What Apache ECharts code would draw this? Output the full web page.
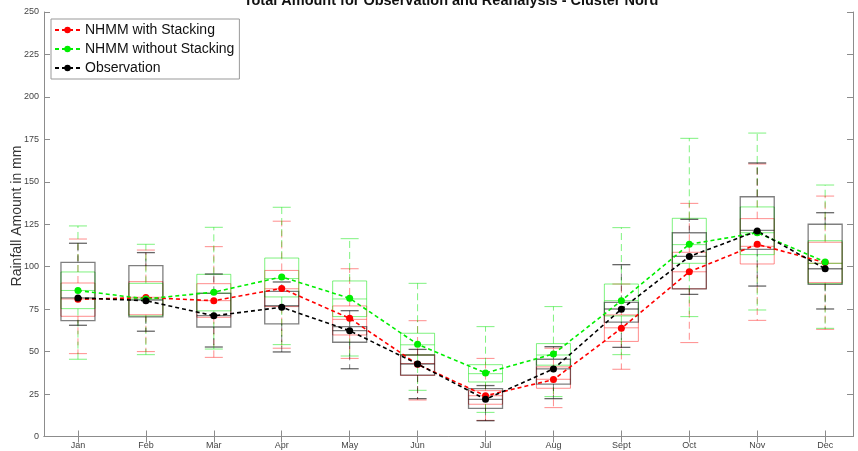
<!DOCTYPE html>
<html>
<head>
<meta charset="utf-8">
<script src="https://cdn.jsdelivr.net/npm/echarts@6/dist/echarts.min.js"></script>
<style>html,body{margin:0;padding:0;background:#fff;}#c{width:858px;height:451px;}</style>
</head>
<body>
<div id="c"></div>
<script>
const months = ['Jan','Feb','Mar','Apr','May','Jun','Jul','Aug','Sept','Oct','Nov','Dec'];
const yTicks = [0,25,50,75,100,125,150,175,200,225,250];

// NHMM with Stacking (red)
const redLo   = [48.8, 50.0, 46.6, 52.0, 46.0, 21.5,  9.5, 17.0, 39.6,  55.3,  68.4,  63.1];
const redQ1   = [70.8, 71.7, 70.2, 76.5, 59.8, 36.0, 19.0, 28.4, 56.0,  87.0, 101.6,  90.6];
const redMed  = [81.0, 82.0, 80.0, 87.0, 69.0, 43.0, 24.0, 33.7, 64.0,  97.0, 112.0, 102.0];
const redQ3   = [90.4, 91.2, 90.0, 97.8, 76.9, 48.0, 27.0, 41.0, 71.6, 108.5, 128.3, 114.4];
const redHi   = [116.3,109.8,111.8,126.8, 98.8, 68.2, 46.0, 52.0, 89.8, 137.3, 160.5, 141.6];
const redMean = [80.8, 81.8, 80.0, 87.2, 69.6, 42.5, 24.0, 33.5, 63.7,  97.0, 113.2, 102.4];

// NHMM without Stacking (green)
const grnLo   = [45.5, 48.2, 51.5, 54.1, 47.4, 27.2, 14.2, 23.5, 48.2,  70.6,  74.5,  63.7];
const grnQ1   = [75.3, 71.0, 74.0, 82.2, 70.6, 48.0, 32.1, 42.0, 71.0, 102.0, 107.1,  90.0];
const grnMed  = [86.0, 81.0, 84.5, 93.0, 81.0, 54.0, 37.0, 48.0, 80.0, 113.0, 120.0, 102.0];
const grnQ3   = [96.9, 90.2, 95.5,105.1, 91.6, 60.8, 42.3, 54.7, 89.8, 128.5, 135.2, 115.3];
const grnHi   = [124.0,113.2,123.2,135.0,116.5, 90.2, 64.7, 76.5,123.0, 175.6, 178.7, 148.1];
const grnMean = [86.0, 81.0, 85.0, 94.0, 81.4, 54.3, 37.4, 48.6, 80.0, 113.2, 120.0, 102.8];

// Observation (black)
const obsLo   = [65.5, 62.0, 52.7, 49.8, 39.9, 22.3,  9.3, 22.3, 52.5,  83.7,  88.6,  75.1];
const obsQ1   = [68.2, 70.4, 64.5, 66.3, 55.5, 36.2, 16.6, 30.9, 67.3,  86.9, 110.2,  89.6];
const obsMed  = [81.6, 80.4, 71.2, 77.0, 62.3, 42.7, 21.9, 39.8, 75.1, 106.1, 121.4,  98.8];
const obsQ3   = [102.6,100.6,84.3, 85.5, 64.7, 48.0, 28.2, 45.5, 79.0, 120.0, 141.2, 125.0];
const obsHi   = [113.8,108.3,95.7, 91.0, 74.1, 51.3, 30.0, 52.9,101.2, 127.9, 161.1, 131.8];
const obsMean = [81.6, 80.0, 71.1, 76.1, 62.3, 42.7, 21.9, 39.8, 75.0, 106.0, 121.0,  98.8];

function boxData(lo,q1,med,q3,hi){
  return months.map((m,i)=>[i+1, lo[i], q1[i], med[i], q3[i], hi[i]]);
}
function meanData(mean){ return months.map((m,i)=>[i+1, mean[i]]); }

function makeBox(name, data, color, lw, capColor){
  return {
    name: name, type: 'custom', data: data, encode: {x:0, y:[1,5]}, silent: true,
    renderItem: function(params, api){
      const x = api.value(0);
      const pt = k => api.coord([x, api.value(k)]);
      const lo = pt(1), q1 = pt(2), md = pt(3), q3 = pt(4), hi = pt(5);
      const cx = lo[0], bw = 17, cw = 9;
      const dash = {stroke: color, lineWidth: 1, lineDash: [7,4]};
      const solid = {stroke: color, lineWidth: lw};
      const cap = {stroke: capColor, lineWidth: lw};
      return {type:'group', children:[
        {type:'line', shape:{x1:cx,y1:q3[1],x2:cx,y2:hi[1]}, style:dash},
        {type:'line', shape:{x1:cx,y1:q1[1],x2:cx,y2:lo[1]}, style:dash},
        {type:'line', shape:{x1:cx-cw,y1:hi[1],x2:cx+cw,y2:hi[1]}, style:cap},
        {type:'line', shape:{x1:cx-cw,y1:lo[1],x2:cx+cw,y2:lo[1]}, style:cap},
        {type:'rect', shape:{x:cx-bw,y:q3[1],width:2*bw,height:q1[1]-q3[1]}, style:{stroke:color,fill:null,lineWidth:lw}},
        {type:'line', shape:{x1:cx-bw,y1:md[1],x2:cx+bw,y2:md[1]}, style:solid}
      ]};
    }
  };
}
function makeMean(name, data, color){
  return {
    name: name, type:'line', data: data, symbol:'circle', symbolSize: 7,
    itemStyle:{color: color}, lineStyle:{color: color, width: 1.6, type:[4,3]}, z: 5
  };
}

const chart = echarts.init(document.getElementById('c'), null, {renderer:'canvas'});
const axisGray = '#8c8c8c';
chart.setOption({
  animation: false,
  backgroundColor: '#fff',
  grid: {left: 44, right: 5, top: 12, bottom: 14.5, containLabel: false, outerBoundsMode: 'none'},
  graphic: [{
    type: 'text', x: 451, y: 8,
    style: {text: 'Total Amount for Observation and Reanalysis - Cluster Nord', font: 'bold 14.5px "Liberation Sans", Arial, sans-serif', fill: '#111', textAlign: 'center', textVerticalAlign: 'bottom'}
  },{
    type: 'text', x: 17, y: 216, rotation: Math.PI / 2,
    style: {text: 'Rainfall Amount in mm', font: '14px "Liberation Sans", Arial, sans-serif', fill: '#333', textAlign: 'center', textVerticalAlign: 'middle'}
  }],
  legend: {
    data: ['NHMM with Stacking','NHMM without Stacking','Observation'],
    orient: 'vertical', left: 51, top: 19, itemWidth: 25, itemHeight: 8, itemGap: 5,
    padding: [4, 5, 4, 3], borderColor: '#999', borderWidth: 1, backgroundColor: '#fff',
    textStyle: {fontSize: 14, color: '#111', fontFamily: '"Liberation Sans", Arial, sans-serif'}
  },
  xAxis: [{
    type: 'value', min: 0.5, max: 12.41, position: 'bottom',
    axisLine: {show: true, lineStyle: {color: axisGray, width: 1}},
    axisTick: {show: true, inside: true, length: 6, customValues: months.map((m,i)=>i+1), lineStyle:{color: axisGray}},
    axisLabel: {customValues: months.map((m,i)=>i+1), formatter: v => months[Math.round(v)-1], fontSize: 9, color: '#444', margin: 5, fontFamily: '"Liberation Sans", Arial, sans-serif'},
    splitLine: {show: false}
  },{
    type: 'value', min: 0.5, max: 12.41, position: 'top',
    axisLine: {show: true, lineStyle: {color: axisGray, width: 1}},
    axisTick: {show: true, inside: true, length: 6, customValues: months.map((m,i)=>i+1), lineStyle:{color: axisGray}},
    axisLabel: {show: false}, splitLine: {show: false}
  }],
  yAxis: [{
    type: 'value', min: 0, max: 250, interval: 25, position: 'left',
    axisLine: {show: true, lineStyle: {color: axisGray, width: 1}},
    axisTick: {show: true, inside: true, length: 6, lineStyle:{color: axisGray}},
    axisLabel: {fontSize: 9, color: '#444', margin: 5, fontFamily: '"Liberation Sans", Arial, sans-serif', formatter: v => yTicks.includes(v) ? String(v) : ''},
    splitLine: {show: false}
  },{
    type: 'value', min: 0, max: 250, interval: 25, position: 'right',
    axisLine: {show: true, lineStyle: {color: axisGray, width: 1}},
    axisTick: {show: true, inside: true, length: 6, lineStyle:{color: axisGray}},
    axisLabel: {show: false}, splitLine: {show: false}
  }],
  series: [
    makeBox('box-red', boxData(redLo,redQ1,redMed,redQ3,redHi), 'rgba(255,0,0,0.45)', 1, 'rgba(255,0,0,0.45)'),
    makeBox('box-green', boxData(grnLo,grnQ1,grnMed,grnQ3,grnHi), 'rgba(0,230,0,0.5)', 1, 'rgba(0,230,0,0.5)'),
    makeBox('box-black', boxData(obsLo,obsQ1,obsMed,obsQ3,obsHi), 'rgba(0,0,0,0.5)', 1.3, 'rgba(0,0,0,0.6)'),
    makeMean('NHMM with Stacking', meanData(redMean), '#ff0000'),
    makeMean('NHMM without Stacking', meanData(grnMean), '#00ee00'),
    makeMean('Observation', meanData(obsMean), '#000000')
  ]
});
</script>
</body>
</html>
